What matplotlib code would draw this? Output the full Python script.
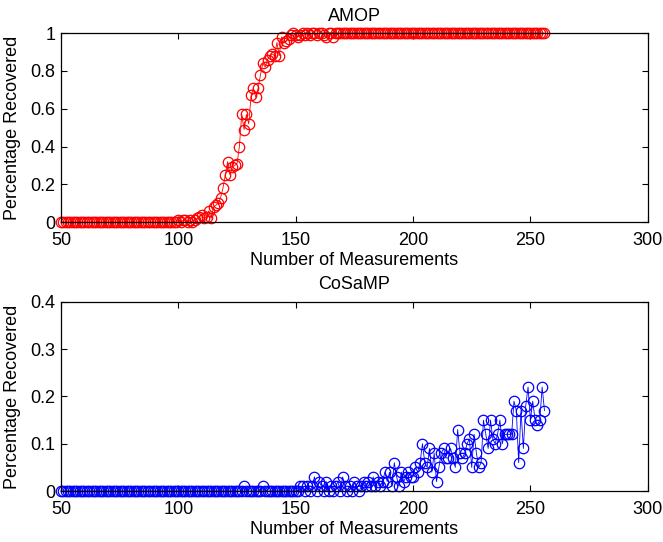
import matplotlib
matplotlib.use('Agg')
import matplotlib.pyplot as plt
import numpy as np

# number of measurements, 50..256
meas = np.arange(50, 257)

# AMOP recovery rate
amop = [0, 0, 0, 0, 0, 0, 0, 0, 0, 0,
        0, 0, 0, 0, 0, 0, 0, 0, 0, 0,
        0, 0, 0, 0, 0, 0, 0, 0, 0, 0,
        0, 0, 0, 0, 0, 0, 0, 0, 0, 0,
        0, 0, 0, 0, 0, 0, 0, 0, 0, 0,
        0.01, 0, 0.01, 0.01, 0, 0.01, 0, 0.01, 0.02, 0.03,
        0.04, 0.02, 0.03, 0.06, 0.02, 0.08, 0.09, 0.10, 0.13, 0.18,
        0.25, 0.32, 0.25, 0.29, 0.30, 0.31, 0.40, 0.57, 0.49, 0.57,
        0.52, 0.67, 0.71, 0.66, 0.71, 0.78, 0.84, 0.82, 0.86, 0.88,
        0.89, 0.88, 0.95, 0.88, 0.98, 0.95, 0.96, 0.97, 0.99, 1.0,
        0.99, 0.98, 0.99, 1.0, 0.99, 1.0, 0.99, 1.0, 1.0, 0.99,
        1.0, 1.0, 0.99, 0.98, 1.0, 1.0, 0.98, 1.0, 1.0, 1.0,
        1, 1, 1, 1, 1, 1, 1, 1, 1, 1,
        1, 1, 1, 1, 1, 1, 1, 1, 1, 1,
        1, 1, 1, 1, 1, 1, 1, 1, 1, 1,
        1, 1, 1, 1, 1, 1, 1, 1, 1, 1,
        1, 1, 1, 1, 1, 1, 1, 1, 1, 1,
        1, 1, 1, 1, 1, 1, 1, 1, 1, 1,
        1, 1, 1, 1, 1, 1, 1, 1, 1, 1,
        1, 1, 1, 1, 1, 1, 1, 1, 1, 1,
        1, 1, 1, 1, 1, 1, 1]

# CoSaMP recovery rate
cosamp = [0, 0, 0, 0, 0, 0, 0, 0, 0, 0,
          0, 0, 0, 0, 0, 0, 0, 0, 0, 0,
          0, 0, 0, 0, 0, 0, 0, 0, 0, 0,
          0, 0, 0, 0, 0, 0, 0, 0, 0, 0,
          0, 0, 0, 0, 0, 0, 0, 0, 0, 0,
          0, 0, 0, 0, 0, 0, 0, 0, 0, 0,
          0, 0, 0, 0, 0, 0, 0, 0, 0, 0,
          0, 0, 0, 0, 0, 0, 0, 0, 0.01, 0,
          0, 0, 0, 0, 0, 0, 0.01, 0, 0, 0,
          0, 0, 0, 0, 0, 0, 0, 0, 0, 0,
          0, 0, 0.01, 0.01, 0, 0.01, 0, 0.01, 0.03, 0,
          0.02, 0.01, 0, 0.02, 0, 0.01, 0, 0.01, 0.02, 0,
          0.03, 0.01, 0, 0.01, 0, 0.02, 0.01, 0, 0.01, 0.02,
          0.01, 0.02, 0.01, 0.03, 0.01, 0.02, 0.01, 0.02, 0.04, 0.02,
          0.04, 0.01, 0.06, 0.03, 0.01, 0.04, 0.02, 0.03, 0.04, 0.03,
          0.03, 0.05, 0.04, 0.06, 0.10, 0.06, 0.05, 0.09, 0.04, 0.08,
          0.02, 0.05, 0.08, 0.09, 0.07, 0.07, 0.09, 0.07, 0.05, 0.13,
          0.08, 0.07, 0.08, 0.10, 0.11, 0.05, 0.12, 0.08, 0.05, 0.06,
          0.15, 0.12, 0.09, 0.15, 0.11, 0.10, 0.12, 0.15, 0.10, 0.12,
          0.12, 0.12, 0.12, 0.19, 0.17, 0.06, 0.17, 0.09, 0.18, 0.22,
          0.15, 0.19, 0.15, 0.14, 0.15, 0.22, 0.17]

plt.rcParams['font.family'] = ['Liberation Sans', 'DejaVu Sans']
plt.rc('xtick', labelsize=13, direction='in', top=True)
plt.rc('ytick', labelsize=13, direction='in', right=True)

fig = plt.figure(figsize=(6.63, 5.42), dpi=100)

# top panel: AMOP
ax1 = fig.add_axes([0.092, 0.590, 0.885, 0.349])
ax1.plot(meas, amop, '-o', color='red', linewidth=0.6, markersize=7.5,
         markerfacecolor='none', markeredgewidth=0.9, clip_on=False)
ax1.set_xlim(50, 300)
ax1.set_ylim(0, 1)
ax1.set_yticks([0, 0.2, 0.4, 0.6, 0.8, 1])
ax1.set_yticklabels(['0', '0.2', '0.4', '0.6', '0.8', '1'])
ax1.set_title('AMOP', fontsize=13, pad=9)
ax1.set_xlabel('Number of Measurements', fontsize=13, labelpad=2)
ax1.set_ylabel('Percentage Recovered', fontsize=13, labelpad=7)

# bottom panel: CoSaMP
ax2 = fig.add_axes([0.092, 0.094, 0.885, 0.349])
ax2.plot(meas, cosamp, '-o', color='blue', linewidth=0.6, markersize=7.5,
         markerfacecolor='none', markeredgewidth=0.9, clip_on=False)
ax2.set_xlim(50, 300)
ax2.set_ylim(0, 0.4)
ax2.set_yticks([0, 0.1, 0.2, 0.3, 0.4])
ax2.set_yticklabels(['0', '0.1', '0.2', '0.3', '0.4'])
ax2.set_title('CoSaMP', fontsize=13, pad=9)
ax2.set_xlabel('Number of Measurements', fontsize=13, labelpad=2)
ax2.set_ylabel('Percentage Recovered', fontsize=13, labelpad=7)

for ax in (ax1, ax2):
    ax.tick_params(axis='x', length=4, width=0.8, pad=7)
    ax.tick_params(axis='y', length=4, width=0.8, pad=4)
    for s in ax.spines.values():
        s.set_linewidth(0.9)

fig.savefig('out.png', dpi=100)
